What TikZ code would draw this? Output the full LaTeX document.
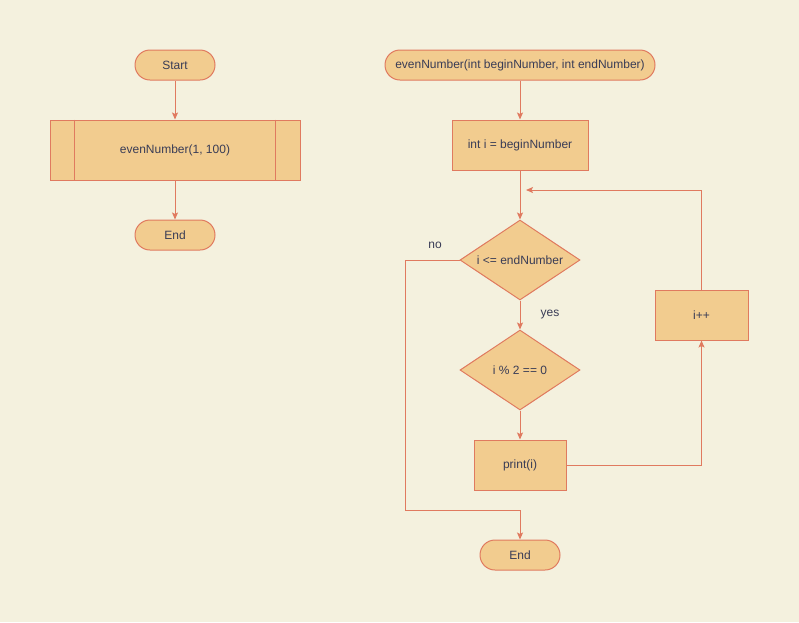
\documentclass[tikz,border=0pt]{standalone}
\usepackage{fontspec}
\setmainfont{Liberation Sans}
\usetikzlibrary{shapes.geometric,arrows.meta}
\definecolor{bgcol}{HTML}{F4F1DE}
\definecolor{boxfill}{HTML}{F2CC8F}
\definecolor{boxline}{HTML}{E07A5F}
\definecolor{txtcol}{HTML}{393C56}
\begin{document}
\begin{tikzpicture}[x=1pt,y=-1pt,
  every node/.style={text=txtcol, font=\fontsize{12}{14}\selectfont},
  terminal/.style={rectangle, rounded corners=15pt, fill=boxfill, draw=boxline, line width=1pt, minimum height=30pt, inner sep=0pt},
  procbox/.style={rectangle, fill=boxfill, draw=boxline, line width=1pt, minimum height=50pt, inner sep=0pt},
  decision/.style={diamond, aspect=1.5, fill=boxfill, draw=boxline, line width=1pt, minimum width=120pt, minimum height=80pt, inner sep=0pt},
  arr/.style={draw=boxline, line width=1pt, -{Stealth[length=7pt,width=6pt,inset=1.5pt]}}]
\fill[bgcol] (0,0) rectangle (799,622);
\useasboundingbox (0,0) rectangle (799,622);
\node [terminal, minimum width=80pt] (start) at (175,65) {Start};
\node [procbox, minimum width=250pt, minimum height=60pt] (sub) at (175,150) {evenNumber(1, 100)};
\draw [draw=boxline, line width=1pt] ([xshift=25pt]sub.north west) -- ([xshift=25pt]sub.south west);
\draw [draw=boxline, line width=1pt] ([xshift=-25pt]sub.north east) -- ([xshift=-25pt]sub.south east);
\node [terminal, minimum width=80pt] (endl) at (175,235) {End};
\node [terminal, minimum width=270pt] (func) at (520,65) {evenNumber(int beginNumber, int endNumber)};
\node [procbox, minimum width=136pt] (init) at (520,145) {int i = beginNumber};
\node [decision] (loopcond) at (520,260) {i <= endNumber};
\node [decision] (evencond) at (520,370) {i \% 2 == 0};
\node [procbox, minimum width=92pt] (print) at (520,465) {print(i)};
\node [procbox, minimum width=93pt] (incr) at (701.5,315) {i++};
\node [terminal, minimum width=80pt] (endr) at (520,555) {End};
\node (no) at (435,245) {no};
\node (yes) at (550,315) {yes};
\coordinate (loopin) at (526,190);
\coordinate (nocorner) at (405,510);
\draw [arr] (start) -- (sub);
\draw [arr] (sub) -- (endl);
\draw [arr] (func) -- (init);
\draw [arr] (init) -- (loopcond);
\draw [arr] (loopcond) -- (evencond);
\draw [arr] (evencond) -- (print);
\draw [arr] (print.east) -| (incr.south);
\draw [arr] (incr.north) |- (loopin);
\draw [arr] (loopcond.west) -| (nocorner) -| (endr.north);
\end{tikzpicture}
\end{document}
